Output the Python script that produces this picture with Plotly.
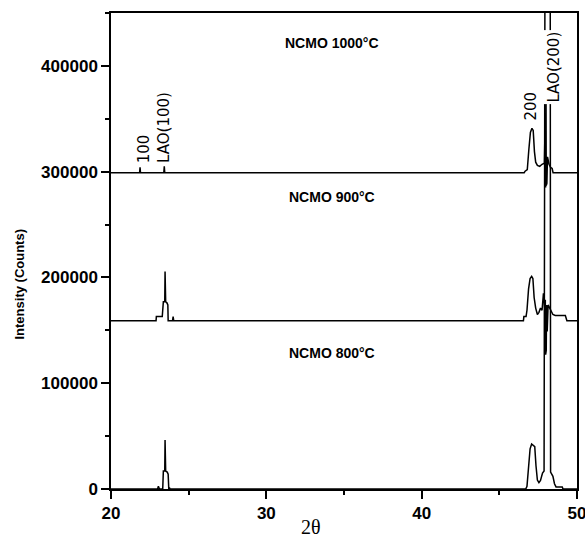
import plotly.graph_objects as go

# ---- data (2theta in degrees, intensity in counts, before stacking offset) ----
x_800 = [20.0, 23.0, 23.05, 23.12, 23.33, 23.37, 23.46, 23.48, 23.52, 23.62, 23.68, 23.72, 23.76, 23.8,
         46.7, 46.78, 46.88, 46.98, 47.08, 47.18, 47.28, 47.36, 47.45, 47.55, 47.65, 47.78, 47.88,
         47.95, 48.27, 48.3, 48.45, 48.55, 48.65, 49.05, 49.1, 50.0]
y_800 = [0, 0, 2600, 0, 0, 17000, 17000, 46300, 17000, 16000, 14000, 0, 1500, 0,
         0, 2500, 20000, 38000, 42500, 41000, 40000, 22000, 8500, 6000, 8000, 15000, 17000,
         600000, 600000, 16000, 12000, 5000, 2000, 2000, 0, 0]

x_900 = [20.0, 22.9, 22.92, 23.3, 23.37, 23.46, 23.48, 23.52, 23.6, 23.66, 23.68, 23.96, 24.0, 24.04,
         46.55, 46.58, 46.72, 46.78, 46.88, 46.98, 47.08, 47.16, 47.24, 47.34, 47.45, 47.55, 47.65, 47.75,
         47.84, 47.92, 47.96, 47.98, 48.0, 48.02, 48.04, 48.08, 48.14, 48.25, 48.37, 48.45, 48.6, 49.25,
         49.35, 50.0]
y_900 = [0, 0, 4000, 4000, 18000, 18000, 46500, 18000, 17000, 15000, 0, 0, 4000, 0,
         0, 4000, 4000, 10000, 30000, 40000, 42000, 40000, 22000, 12000, 6000, 8000, 12000, 10000,
         26000, 12000, 20000, -32000, 18000, -28000, 15000, -10000, 15000, 12000, 9000, 6000, 5000, 5000,
         0, 0]

x_1000 = [20.0, 21.84, 21.87, 21.9, 23.4, 23.43, 23.46,
          46.6, 46.66, 46.8, 46.9, 47.0, 47.1, 47.18, 47.26, 47.34, 47.45, 47.6, 47.75, 47.9,
          47.96, 47.98, 48.0, 48.02, 48.04, 48.06, 48.1, 48.2, 48.3, 48.4, 48.46, 50.0]
y_1000 = [0, 0, 5000, 0, 0, 6000, 0,
          0, 1500, 3000, 22000, 38000, 42000, 40000, 20000, 10000, 7000, 6000, 8000, 9000,
          56000, -14000, 118000, -12000, 50000, -10000, 15000, 8000, 5000, 4000, 0, 0]

offsets = {"800": 0, "900": 159000, "1000": 299000}

sample_labels = ["NCMO 1000°C", "NCMO 900°C", "NCMO 800°C"]
label_x = [34.2, 34.2, 34.2]
label_y = [421500, 276000, 128500]

peak_labels = ["100", "LAO(100)", "200", "LAO(200)"]
peak_x = [22.09, 23.42, 46.98, 48.46]
peak_y = [306000, 306000, 346000, 363000]

x_ticks = [20, 30, 40, 50]
y_ticks = [0, 100000, 200000, 300000, 400000]

fig = go.Figure()
for xs, ys, key in [(x_800, y_800, "800"), (x_900, y_900, "900"), (x_1000, y_1000, "1000")]:
    fig.add_trace(go.Scatter(
        x=xs, y=[v + offsets[key] for v in ys], mode="lines",
        line=dict(color="black", width=1.5), showlegend=False, hoverinfo="skip"))

annotations = []
for t, xx, yy in zip(sample_labels, label_x, label_y):
    annotations.append(dict(text=t, x=xx, y=yy, xref="x", yref="y", showarrow=False,
                            xanchor="center", yanchor="middle",
                            font=dict(family="Liberation Sans", size=14, color="black", weight="bold")))
for t, xx, yy in zip(peak_labels, peak_x, peak_y):
    a = dict(text=t, x=xx, y=yy, xref="x", yref="y", showarrow=False, textangle=-90,
             yanchor="bottom", xanchor="center",
             font=dict(family="DejaVu Sans", size=15, color="black"))
    if t == "LAO(200)":
        a["bgcolor"] = "white"
    annotations.append(a)

annotations.append(dict(text="Intensity (Counts)", xref="paper", yref="paper", x=-0.197, y=0.43,
                        xanchor="center", yanchor="middle",
                        showarrow=False, textangle=-90,
                        font=dict(family="Liberation Sans", size=13, color="black", weight="bold")))
annotations.append(dict(text="2θ", xref="paper", yref="paper", x=0.43, y=-0.08,
                        xanchor="center", yanchor="middle",
                        showarrow=False,
                        font=dict(family="Liberation Serif", size=20, color="black")))

axis_common = dict(showline=True, linecolor="black", linewidth=1.5, mirror=True, showgrid=False,
                   zeroline=False, ticks="outside", tickcolor="black", tickwidth=1.5, ticklen=8,
                   automargin=False, ticklabeloverflow="allow",
                   tickfont=dict(family="Liberation Sans", size=17, color="black", weight="bold"))

fig.update_layout(
    width=585, height=539,
    margin=dict(l=111, r=8, t=13, b=50, autoexpand=False),
    paper_bgcolor="white", plot_bgcolor="white",
    xaxis=dict(range=[20, 50], tickvals=x_ticks, ticktext=[str(v) for v in x_ticks],
               minor=dict(dtick=5, ticks="outside", ticklen=4, tickcolor="black", tickwidth=1.5),
               **axis_common),
    yaxis=dict(range=[0, 450000], tickvals=y_ticks, ticktext=[str(v) for v in y_ticks],
               minor=dict(dtick=50000, ticks="outside", ticklen=4, tickcolor="black", tickwidth=1.5),
               **axis_common),
    annotations=annotations,
)

post = ("document.documentElement.style.margin='0';document.body.style.margin='0';"
        "document.documentElement.style.overflow='hidden';document.body.style.overflow='hidden';")
fig.write_html("out.html", config={"displayModeBar": False}, post_script=post)
